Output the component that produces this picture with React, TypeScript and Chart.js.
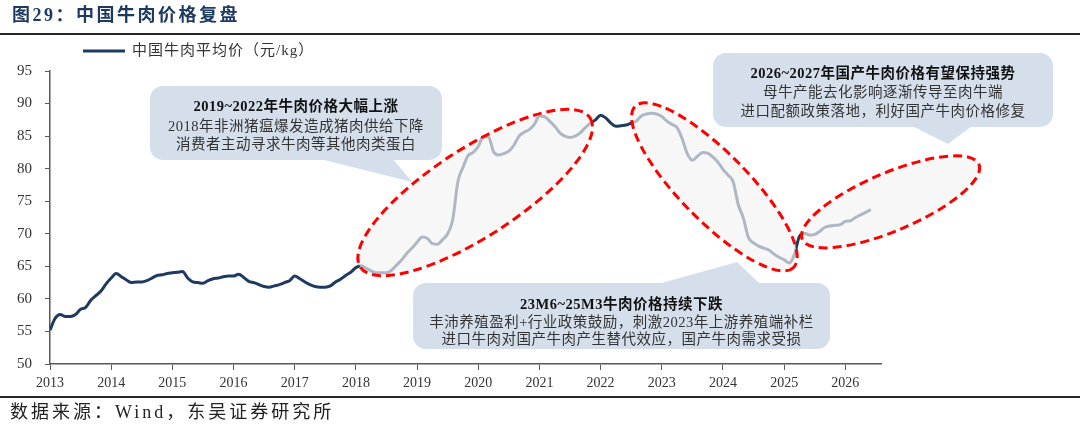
import React, { useEffect, useRef } from 'react';
import { Chart, registerables } from 'chart.js';

Chart.register(...registerables);

// Monthly average beef price in China (yuan/kg), Jan 2013 – Jun 2026
const START_YEAR = 2013;
const AXIS_END_MONTHS = 163;
const price2013 = [55.2, 57.0, 57.6, 57.3, 57.3, 57.6, 58.4, 58.7, 59.8, 60.5, 61.2, 62.3];
const price2014 = [63.2, 63.9, 63.4, 62.9, 62.5, 62.6, 62.6, 62.8, 63.2, 63.6, 63.7, 63.9];
const price2015 = [64.0, 64.1, 64.2, 63.2, 62.6, 62.5, 62.4, 62.8, 63.1, 63.2, 63.4, 63.5];
const price2016 = [63.5, 63.8, 63.3, 62.7, 62.5, 62.2, 61.9, 61.8, 62.0, 62.2, 62.5, 62.8];
const price2017 = [63.5, 63.1, 62.6, 62.2, 61.9, 61.8, 61.8, 62.0, 62.6, 63.0, 63.6, 64.1];
const price2018 = [64.8, 65.1, 64.7, 64.3, 64.0, 64.0, 64.0, 64.4, 65.2, 66.0, 67.0, 67.8];
const price2019 = [68.7, 69.5, 69.3, 68.5, 68.4, 69.1, 70.0, 72.2, 78.0, 80.2, 82.0, 82.5];
const price2020 = [83.4, 84.9, 84.9, 82.6, 82.1, 82.3, 82.7, 83.6, 85.0, 85.6, 86.0, 86.8];
const price2021 = [88.1, 88.0, 87.3, 86.5, 85.5, 85.0, 84.8, 85.0, 85.5, 86.3, 87.0, 87.5];
const price2022 = [88.2, 87.8, 87.0, 86.5, 86.6, 86.7, 87.0, 87.3, 88.1, 88.4, 88.5, 88.4];
const price2023 = [88.0, 87.3, 86.8, 86.3, 84.6, 82.3, 81.3, 81.9, 82.5, 82.4, 81.8, 81.0];
const price2024 = [79.9, 79.0, 78.0, 74.5, 72.4, 69.4, 68.6, 68.1, 67.8, 67.5, 66.9, 66.4];
const price2025 = [66.0, 65.5, 66.8, 69.6, 70.1, 69.8, 69.9, 70.4, 71.0, 71.2, 71.3, 71.4];
const price2026 = [71.9, 72.0, 72.5, 72.9, 73.3, 73.7];

const beefPrice = [
  ...price2013, ...price2014, ...price2015, ...price2016, ...price2017,
  ...price2018, ...price2019, ...price2020, ...price2021, ...price2022,
  ...price2023, ...price2024, ...price2025, ...price2026,
];

const Y_MIN = 50;
const Y_MAX = 95;
const Y_STEP = 5;

const TITLE = '图29：中国牛肉价格复盘';
const SERIES_NAME = '中国牛肉平均价（元/kg）';
const SOURCE = '数据来源：Wind，东吴证券研究所';

const calloutTexts = [
  {
    head: '2019~2022年牛肉价格大幅上涨',
    body: ['2018年非洲猪瘟爆发造成猪肉供给下降', '消费者主动寻求牛肉等其他肉类蛋白'],
  },
  {
    head: '2026~2027年国产牛肉价格有望保持强势',
    body: ['母牛产能去化影响逐渐传导至肉牛端', '进口配额政策落地，利好国产牛肉价格修复'],
  },
  {
    head: '23M6~25M3牛肉价格持续下跌',
    body: ['丰沛养殖盈利+行业政策鼓励，刺激2023年上游养殖端补栏', '进口牛肉对国产牛肉产生替代效应，国产牛肉需求受损'],
  },
];

// Highlight rings: centre in data units, radii in px, rotation in degrees
const highlightRings = [
  { year: 2019.95, value: 76.34, rx: 137, ry: 44, angle: -33 },
  { year: 2023.86, value: 77.2, rx: 113, ry: 34, angle: 45.5 },
  { year: 2026.74, value: 74.9, rx: 96, ry: 29, angle: -23 },
];

// Callout boxes (px) with their pointer triangles
const calloutLayout = [
  { left: 150, top: 86, right: 442, bottom: 160, pointer: [[320, 159], [393, 159], [412, 182]], lineY: [107, 127, 145] },
  { left: 713, top: 53, right: 1053, bottom: 127, pointer: [[912, 126], [972, 126], [948, 144]], lineY: [74, 93, 112] },
  { left: 413, top: 283, right: 830, bottom: 349, pointer: [[658, 284], [760, 284], [737, 262]], lineY: [305, 323, 340] },
];

const NAVY = '#1f3a60';
const FONT_STACK = '"Liberation Serif", "Noto Sans CJK SC", serif';

const decorPlugin = {
  id: 'decor',
  beforeDraw(chart: any) {
    const { ctx, width, height } = chart;
    ctx.save();
    ctx.fillStyle = '#ffffff';
    ctx.fillRect(0, 0, width, height);
    ctx.restore();
  },
  afterDatasetsDraw(chart: any) {
    const { ctx, scales } = chart;
    ctx.save();
    for (const r of highlightRings) {
      const cx = scales.x.getPixelForValue(r.year);
      const cy = scales.y.getPixelForValue(r.value);
      ctx.save();
      ctx.translate(cx, cy);
      ctx.rotate((r.angle * Math.PI) / 180);
      ctx.beginPath();
      ctx.ellipse(0, 0, r.rx, r.ry, 0, 0, Math.PI * 2);
      ctx.fillStyle = 'rgba(243,243,243,0.68)';
      ctx.fill();
      ctx.setLineDash([9, 5]);
      ctx.lineWidth = 3;
      ctx.strokeStyle = '#ff0000';
      ctx.stroke();
      ctx.restore();
    }
    ctx.restore();
  },
  afterDraw(chart: any) {
    const { ctx, width } = chart;
    ctx.save();

    // callouts
    calloutLayout.forEach((b, i) => {
      ctx.fillStyle = '#d5dfec';
      ctx.beginPath();
      ctx.roundRect(b.left, b.top, b.right - b.left, b.bottom - b.top, 13);
      ctx.fill();
      ctx.beginPath();
      ctx.moveTo(b.pointer[0][0], b.pointer[0][1]);
      ctx.lineTo(b.pointer[2][0], b.pointer[2][1]);
      ctx.lineTo(b.pointer[1][0], b.pointer[1][1]);
      ctx.closePath();
      ctx.fill();

      const cx = (b.left + b.right) / 2;
      const t = calloutTexts[i];
      ctx.textAlign = 'center';
      ctx.textBaseline = 'middle';
      (ctx as any).letterSpacing = '0.5px';
      ctx.fillStyle = '#111111';
      ctx.font = `bold 14.5px ${FONT_STACK}`;
      ctx.fillText(t.head, cx, b.lineY[0]);
      ctx.fillStyle = '#333333';
      ctx.font = `14.5px ${FONT_STACK}`;
      t.body.forEach((line, k) => ctx.fillText(line, cx, b.lineY[k + 1]));
    });

    // title and rules
    (ctx as any).letterSpacing = '2.5px';
    ctx.textAlign = 'left';
    ctx.textBaseline = 'middle';
    ctx.fillStyle = NAVY;
    ctx.font = `bold 18px ${FONT_STACK}`;
    ctx.fillText(TITLE, 12, 16);

    ctx.fillStyle = '#262626';
    ctx.fillRect(0, 33, width, 2);
    ctx.fillRect(0, 396, width, 2);

    // legend
    ctx.strokeStyle = NAVY;
    ctx.lineWidth = 3;
    ctx.setLineDash([]);
    ctx.beginPath();
    ctx.moveTo(83, 51);
    ctx.lineTo(125, 51);
    ctx.stroke();
    (ctx as any).letterSpacing = '1px';
    ctx.fillStyle = '#333333';
    ctx.font = `15px ${FONT_STACK}`;
    ctx.fillText(SERIES_NAME, 132, 51);

    // source note
    (ctx as any).letterSpacing = '3px';
    ctx.fillStyle = '#222222';
    ctx.font = `18px ${FONT_STACK}`;
    ctx.fillText(SOURCE, 10, 413);

    (ctx as any).letterSpacing = '0px';
    ctx.restore();
  },
};

export default function App() {
  const canvasRef = useRef<HTMLCanvasElement>(null);

  useEffect(() => {
    const canvas = canvasRef.current;
    if (!canvas) return;
    const points = beefPrice.map((v, i) => ({ x: START_YEAR + i / 12, y: v }));
    const axisColor = '#595959';
    const chart = new Chart(canvas, {
      type: 'line',
      data: {
        datasets: [
          {
            label: SERIES_NAME,
            data: points,
            borderColor: NAVY,
            borderWidth: 3,
            pointRadius: 0,
            cubicInterpolationMode: 'monotone',
            fill: false,
          },
        ],
      },
      options: {
        responsive: false,
        devicePixelRatio: 1,
        animation: false,
        layout: { padding: { top: 71, right: 199, bottom: 0, left: 0 } },
        plugins: {
          legend: { display: false },
          tooltip: { enabled: false },
          title: { display: false },
        },
        scales: {
          x: {
            type: 'linear',
            min: START_YEAR,
            max: START_YEAR + AXIS_END_MONTHS / 12,
            afterFit: (s: any) => {
              s.height = 70;
            },
            ticks: {
              stepSize: 1,
              includeBounds: false,
              autoSkip: false,
              maxRotation: 0,
              padding: 5,
              color: '#333333',
              font: { family: FONT_STACK, size: 14 },
              callback: (v: any) => String(v),
            },
            grid: { display: true, drawOnChartArea: false, drawTicks: true, tickLength: 6, color: axisColor, lineWidth: 1 },
            border: { display: true, color: axisColor, width: 1.5 },
          },
          y: {
            type: 'linear',
            min: Y_MIN,
            max: Y_MAX,
            afterFit: (s: any) => {
              s.width = 50;
            },
            ticks: {
              stepSize: Y_STEP,
              padding: 13,
              color: '#333333',
              font: { family: FONT_STACK, size: 15 },
              callback: (v: any) => String(v),
            },
            grid: { display: true, drawOnChartArea: false, drawTicks: true, tickLength: 5, color: axisColor, lineWidth: 1 },
            border: { display: true, color: axisColor, width: 1.5 },
          },
        },
      },
      plugins: [decorPlugin],
    });
    return () => chart.destroy();
  }, []);

  return (
    <div style={{ position: 'fixed', left: 0, top: 0, width: 1080, height: 434, background: '#ffffff' }}>
      <canvas ref={canvasRef} width={1080} height={434} style={{ display: 'block', width: 1080, height: 434 }} />
    </div>
  );
}
